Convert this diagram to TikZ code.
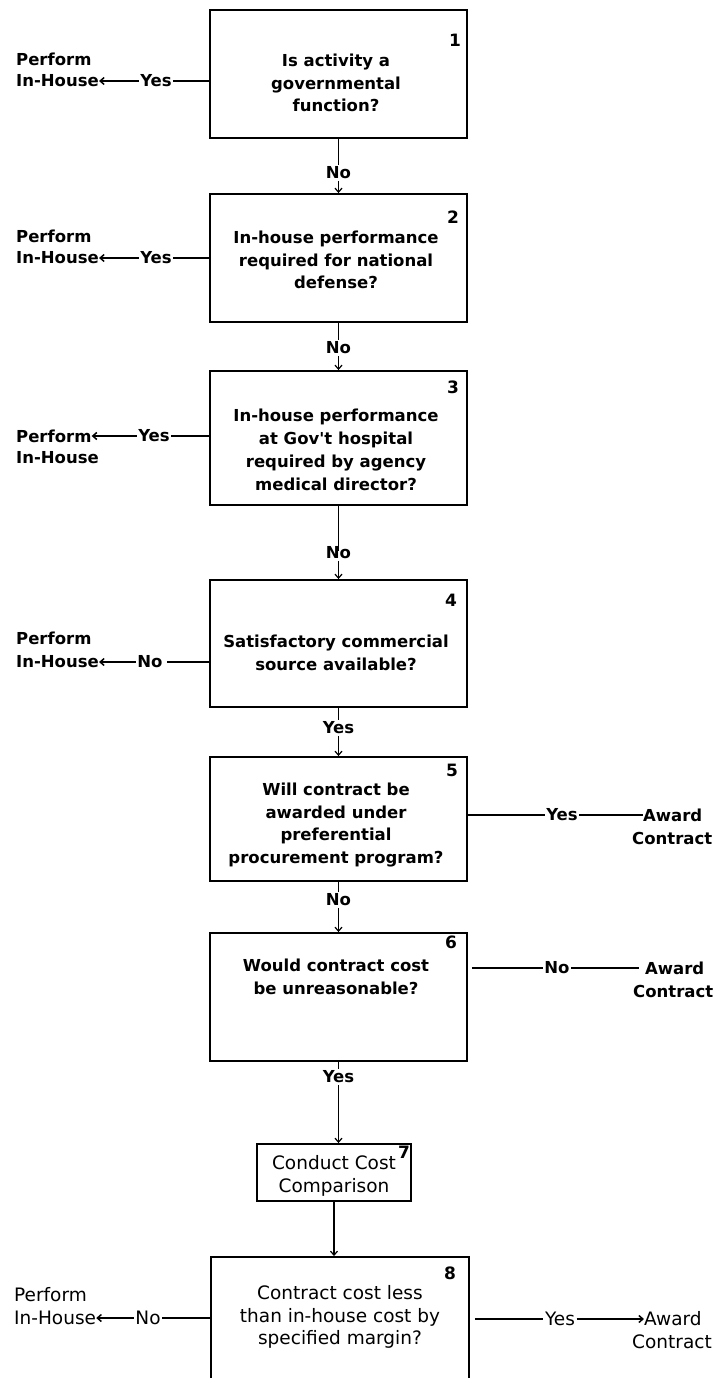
\documentclass[tikz,border=0pt]{standalone}
\usepackage{fontspec}
\setmainfont[Ligatures=TeXOff]{DejaVu Sans}
\usetikzlibrary{arrows.meta}
\begin{document}
\begin{tikzpicture}[x=1pt,y=-1pt,
  >={Straight Barb[length=4pt,width=7pt]},
  box/.style={draw, line width=1.9pt, inner sep=0pt},
  txt/.style={align=center, inner sep=0pt, font=\bfseries\fontsize{16.5}{22.8}\selectfont},
  txtr/.style={align=center, inner sep=0pt, font=\fontsize{18.5}{22.5}\selectfont},
  lab/.style={inner sep=1.5pt, font=\bfseries\fontsize{16.5}{22}\selectfont},
  labr/.style={inner sep=1.5pt, font=\fontsize{18.5}{22}\selectfont},
  side/.style={anchor=west, inner sep=0pt, font=\bfseries\fontsize{16.5}{22}\selectfont},
  sider/.style={anchor=west, inner sep=0pt, font=\fontsize{18.5}{22}\selectfont},
  num/.style={inner sep=0pt, font=\bfseries\fontsize{17}{17}\selectfont},
  conn/.style={line width=1.5pt},
  vconn/.style={line width=1.2pt}]
\useasboundingbox (0,0) rectangle (722,1378);
\clip (0,0) rectangle (722,1378);

% boxes
\node[box, minimum width=257pt, minimum height=128pt] (b1) at (338.5,74) {};
\node[box, minimum width=257pt, minimum height=128pt] (b2) at (338.5,258) {};
\node[box, minimum width=257pt, minimum height=134pt] (b3) at (338.5,438) {};
\node[box, minimum width=257pt, minimum height=127pt] (b4) at (338.5,643.5) {};
\node[box, minimum width=257pt, minimum height=124pt] (b5) at (338.5,819) {};
\node[box, minimum width=257pt, minimum height=128pt] (b6) at (338.5,997) {};
\node[box, minimum width=154pt, minimum height=57pt] (b7) at (334,1172.5) {};
\node[box, minimum width=258pt, minimum height=125pt] (b8) at (340,1319.5) {};

% box texts
\node[txt] (t1) at (336,83) {Is activity a\\governmental\\function?};
\node[txt] (t2) at (336,260) {In-house performance\\required for national\\defense?};
\node[txt] (t3) at (336,450) {In-house performance\\at Gov't hospital\\required by agency\\medical director?};
\node[txt] (t4) at (336,653) {Satisfactory commercial\\source available?};
\node[txt] (t5) at (336,825) {Will contract be\\awarded under\\preferential\\procurement program?};
\node[txt] (t6) at (336,977) {Would contract cost\\be unreasonable?};
\node[txtr] (t7) at (334,1176) {Conduct Cost\\Comparison};
\node[txtr] (t8) at (340,1317) {Contract cost less\\than in-house cost by\\specified margin?};

% numbers
\node[num] (k1) at (455,40) {1};
\node[num] (k2) at (453,217) {2};
\node[num] (k3) at (453,387) {3};
\node[num] (k4) at (451,600) {4};
\node[num] (k5) at (452,770) {5};
\node[num] (k6) at (451,942) {6};
\node[num] (k7) at (404,1152) {7};
\node[num] (k8) at (450,1273) {8};

% vertical connectors
\node[lab] (n1) at (338.5,173) {No};
\node[lab] (n2) at (338.5,348) {No};
\node[lab] (n3) at (338.5,553) {No};
\node[lab] (n4) at (338.5,728) {Yes};
\node[lab] (n5) at (338.5,900) {No};
\node[lab] (n6) at (338.5,1077) {Yes};
\draw[vconn] (b1.south) -- (b1.south |- n1.north);
\draw[vconn,->] (b1.south |- n1.south) -- (b2.north);
\draw[vconn] (b2.south) -- (b2.south |- n2.north);
\draw[vconn,->] (b2.south |- n2.south) -- (b3.north);
\draw[vconn] (b3.south) -- ([yshift=-6pt]b3.south |- n3.north);
\draw[vconn,->] (b3.south |- n3.south) -- (b4.north);
\draw[vconn] (b4.south) -- (b4.south |- n4.north);
\draw[vconn,->] (b4.south |- n4.south) -- (b5.north);
\draw[vconn] (b5.south) -- (b5.south |- n5.north);
\draw[vconn,->] (b5.south |- n5.south) -- (b6.north);
\draw[vconn] (b6.south) -- (b6.south |- n6.north);
\draw[vconn,->] (b6.south |- n6.south) -- (b6.south |- b7.north);
\draw[vconn,->] (b7.south) -- (b7.south |- b8.north);

% left outcomes
\node[side] (pf1) at (16,59) {Perform};
\node[side] (ih1) at (16,81) {In-House};
\node[lab] (y1) at (156,81) {Yes};
\draw[conn] (b1.west |- y1) -- (y1.east);
\draw[conn,->] (y1.west) -- (ih1.east);

\node[side] (pf2) at (16,236) {Perform};
\node[side] (ih2) at (16,258) {In-House};
\node[lab] (y2) at (156,258) {Yes};
\draw[conn] (b2.west |- y2) -- (y2.east);
\draw[conn,->] (y2.west) -- (ih2.east);

\node[side] (pf3) at (16,436) {Perform};
\node[side] (ih3) at (16,458) {In-House};
\node[lab] (y3) at (154,436) {Yes};
\draw[conn] (b3.west |- y3) -- (y3.east);
\draw[conn,->] (y3.west) -- (pf3.east);

\node[side] (pf4) at (16,638) {Perform};
\node[side] (ih4) at (16,662) {In-House};
\node[lab] (y4) at (150,662) {No};
\draw[conn] (b4.west |- y4) -- ([xshift=3pt]y4.east);
\draw[conn,->] (y4.west) -- (ih4.east);

\node[sider] (pf8) at (14,1295) {Perform};
\node[sider] (ih8) at (14,1318) {In-House};
\node[labr] (y8) at (148,1318) {No};
\draw[conn] (b8.west |- y8) -- (y8.east);
\draw[conn,->] (y8.west) -- (ih8.east);

% right outcomes
\node[lab] (r5) at (562,815) {Yes};
\node[side] (aw5) at (643,815) {Award};
\node[side] (ct5) at (632,838) {Contract};
\draw[conn] (b5.east |- r5) -- (r5.west);
\draw[conn] (r5.east) -- (r5.east -| aw5.west);

\node[lab] (r6) at (557,968) {No};
\node[side] (aw6) at (645,968) {Award};
\node[side] (ct6) at (633,991) {Contract};
\draw[conn] ([xshift=4pt]b6.east |- r6) -- (r6.west);
\draw[conn] (r6.east) -- ([xshift=-6pt]r6.east -| aw6.west);

\node[labr] (r8) at (560,1319) {Yes};
\node[sider] (aw8) at (644,1319) {Award};
\node[sider] (ct8) at (632,1342) {Contract};
\draw[conn] ([xshift=5pt]b8.east |- r8) -- (r8.west);
\draw[conn,->] (r8.east) -- (r8.east -| aw8.west);
\end{tikzpicture}
\end{document}
